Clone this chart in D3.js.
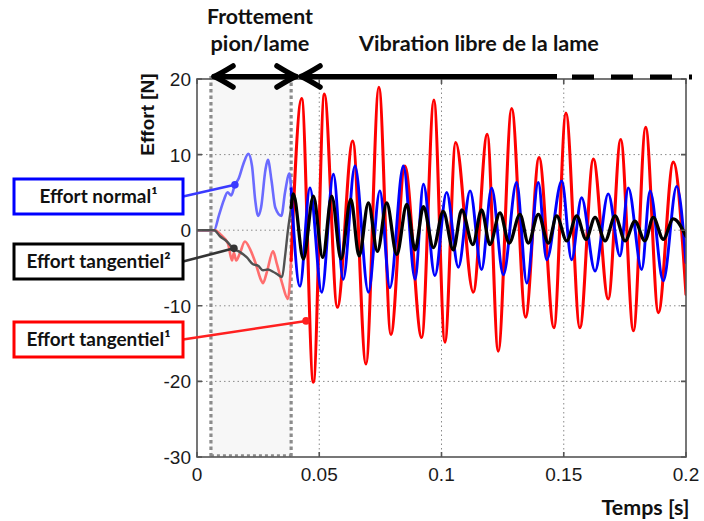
<!DOCTYPE html>
<html><head><meta charset="utf-8">
<script src="https://cdn.jsdelivr.net/npm/d3@7"></script>
<style>body{margin:0;background:#fff}svg{display:block}</style>
</head><body>
<svg id="c" width="704" height="521"></svg>
<script>
// ---------- data ----------
const xTicks = [0, 0.05, 0.1, 0.15, 0.2];
const xTickLabels = ["0", "0.05", "0.1", "0.15", "0.2"];
const yTicks = [20, 10, 0, -10, -20, -30];
const yTickLabels = ["20", "10", "0", "-10", "-20", "-30"];
const frictionStart = 0.0057, frictionEnd = 0.0385;

const normalT = [0,0.0070,0.0090,0.0110,0.0125,0.0140,0.0155,0.0170,0.0190,0.0210,0.0225,0.0238,0.0250,0.0262,0.0280,0.0290,0.0305,0.0320,0.0345,0.0360,0.0378,0.0385,0.0421,0.0462,0.0510,0.0558,0.0598,0.0646,0.0701,0.0748,0.0789,0.0844,0.0892,0.0926,0.0973,0.1021,0.1069,0.1117,0.1164,0.1205,0.1253,0.1307,0.1349,0.1396,0.1430,0.1492,0.1532,0.1573,0.1628,0.1682,0.1730,0.1764,0.1819,0.1853,0.1907,0.1962,0.2000];
const normalV = [0,0,2.0,4.0,5.0,4.6,6.0,6.8,8.8,10.1,8.5,4.0,1.9,3.0,8.0,9.3,6.5,3.0,1.9,5.0,7.5,5.5,-7.4,5.6,-8.2,7.4,-6.5,8.5,-8.2,5.2,-7.6,8.5,-6.5,6.1,-6.0,5.0,-4.9,5.2,-5.2,5.6,-5.9,6.3,-7.0,6.3,-3.9,6.5,-3.9,4.3,-5.4,4.8,-3.4,5.6,-5.2,5.2,-6.7,5.8,-4.3];

const tang2T = [0,0.0070,0.0094,0.0123,0.0147,0.0176,0.0204,0.0229,0.0250,0.0270,0.0290,0.0311,0.0327,0.0348,0.0360,0.0372,0.0385,0.0394,0.0435,0.0476,0.0514,0.0551,0.0589,0.0629,0.0663,0.0701,0.0738,0.0776,0.0817,0.0858,0.0892,0.0926,0.0967,0.1007,0.1048,0.1083,0.1128,0.1164,0.1198,0.1239,0.1277,0.1321,0.1355,0.1396,0.1437,0.1471,0.1512,0.1553,0.1591,0.1628,0.1669,0.1710,0.1751,0.1791,0.1832,0.1866,0.1907,0.1948,0.2000];
const tang2V = [0,0,-0.8,-1.5,-2.4,-2.9,-3.6,-4.5,-4.7,-5.3,-5.2,-5.5,-5.8,-6.2,-3.5,0,3.0,4.8,-3.8,4.5,-3.6,4.5,-3.8,4.1,-3.4,3.6,-2.8,3.6,-3.2,3.4,-2.6,3.1,-2.3,2.5,-2.6,2.7,-1.9,2.7,-1.9,2.3,-1.7,2.1,-1.7,2.1,-1.7,1.9,-1.4,1.9,-1.2,1.7,-1.4,1.9,-1.4,1.2,-1.4,1.7,-1.2,1.5,-0.8];

const tang1T = [0,0.0075,0.0094,0.0127,0.0143,0.0151,0.0160,0.0176,0.0196,0.0217,0.0241,0.0262,0.0270,0.0286,0.0311,0.0327,0.0348,0.0372,0.0385,0.0428,0.0476,0.0521,0.0574,0.0637,0.0691,0.0744,0.0793,0.0850,0.0919,0.0969,0.1014,0.1058,0.1130,0.1187,0.1232,0.1287,0.1344,0.1399,0.1460,0.1509,0.1566,0.1621,0.1682,0.1733,0.1785,0.1835,0.1887,0.1948,0.2000];
const tang1V = [0,0,-0.5,-1.8,-4.0,-3.0,-4.0,-3.0,-1.5,-2.5,-4.5,-6.6,-7.0,-5.5,-2.8,-4.5,-7.0,-9.1,-4.0,17.4,-20.1,18.0,-10.2,11.8,-17.7,18.9,-13.8,8.5,-14.2,17.2,-14.8,11.6,-8.2,12.7,-16.0,16.1,-11.5,9.6,-12.9,15.5,-12.9,9.4,-9.1,12.0,-13.3,13.6,-10.9,9.0,-8.5];

const legendLabels = ["Effort normal\u00B9", "Effort tangentiel\u00B2", "Effort tangentiel\u00B9"];
const legendAnchorT = [0.0155, 0.0151, 0.0446];
const legendAnchorV = [6.0, -2.4, -12.0];

// ---------- layout ----------
const svg = d3.select("#c");
const x = d3.scaleLinear().domain([0, 0.2]).range([197, 686]);
const y = d3.scaleLinear().domain([-30, 20]).range([457, 79]);
const X0 = 197, X1 = 686, Y0 = 79, Y1 = 457;

svg.append("defs").append("clipPath").attr("id", "clip")
  .append("rect").attr("x", X0).attr("y", Y0).attr("width", X1 - X0).attr("height", Y1 - Y0);

// shaded friction zone
svg.append("rect").attr("x", x(frictionStart)).attr("y", Y0)
  .attr("width", x(frictionEnd) - x(frictionStart)).attr("height", Y1 - Y0)
  .attr("fill", "#f7f7f7");

// grid
const grid = svg.append("g").attr("stroke", "#8a8a8a").attr("stroke-width", 1).attr("stroke-dasharray", "1.5,3");
grid.selectAll(".gx").data(xTicks.slice(1, -1)).join("line")
  .attr("x1", d => x(d)).attr("x2", d => x(d)).attr("y1", Y0).attr("y2", Y1);
grid.selectAll(".gy").data(yTicks.slice(1, -1)).join("line")
  .attr("x1", X0).attr("x2", X1).attr("y1", d => y(d)).attr("y2", d => y(d));

// friction zone dotted borders
const zb = svg.append("g").attr("stroke", "#8c8c8c");
zb.selectAll("line").data([frictionStart, frictionEnd]).join("line")
  .attr("x1", d => x(d)).attr("x2", d => x(d)).attr("y1", Y0 - 3).attr("y2", Y1)
  .attr("stroke-width", 3.2).attr("stroke-dasharray", "3.5,3");
zb.append("line").attr("x1", x(frictionStart)).attr("x2", x(frictionEnd))
  .attr("y1", Y1 - 1.5).attr("y2", Y1 - 1.5).attr("stroke-width", 2.5).attr("stroke-dasharray", "3,3");

// curves
const line = d3.line().x(d => x(d[0])).y(d => y(d[1])).curve(d3.curveMonotoneX);
const plot = svg.append("g").attr("clip-path", "url(#clip)").attr("fill", "none")
  .attr("stroke-linejoin", "round").attr("stroke-linecap", "round");
function split(T, V) {
  const pts = d3.zip(T, V);
  return [pts.filter(p => p[0] <= frictionEnd), pts.filter(p => p[0] >= frictionEnd)];
}
const [n1, n2] = split(normalT, normalV);
const [r1, r2] = split(tang1T, tang1V);
const [k1, k2] = split(tang2T, tang2V);
// friction phase (light)
plot.append("path").attr("d", line(n1)).attr("stroke", "#6a6aff").attr("stroke-width", 2.6);
plot.append("path").attr("d", line(r1)).attr("stroke", "#ff6e6e").attr("stroke-width", 2.6);
plot.append("path").attr("d", line(k1)).attr("stroke", "#505050").attr("stroke-width", 2.4);
// free vibration
plot.append("path").attr("d", line(r2)).attr("stroke", "#ff0000").attr("stroke-width", 3.1);
plot.append("path").attr("d", line(n2)).attr("stroke", "#0000ff").attr("stroke-width", 2.9);
plot.append("path").attr("d", line(k2)).attr("stroke", "#000000").attr("stroke-width", 3.3);

// frame
const frame = svg.append("g").attr("stroke", "#555").attr("stroke-width", 1.6).attr("fill", "none");
frame.append("rect").attr("x", X0).attr("y", Y0).attr("width", X1 - X0).attr("height", Y1 - Y0);
// inward ticks
frame.selectAll(".tx").data(xTicks).join("path")
  .attr("d", d => `M${x(d)},${Y1}v-5M${x(d)},${Y0}v5`);
frame.selectAll(".ty").data(yTicks).join("path")
  .attr("d", d => `M${X0},${y(d)}h5M${X1},${y(d)}h-5`);

// tick labels
const tickFont = "'Liberation Sans', Arial, sans-serif";
svg.append("g").selectAll("text").data(xTicks).join("text")
  .attr("x", d => x(d)).attr("y", 481).attr("text-anchor", "middle")
  .attr("font-family", tickFont).attr("font-size", 19).attr("fill", "#1a1a1a")
  .text((d, i) => xTickLabels[i]);
svg.append("g").selectAll("text").data(yTicks).join("text")
  .attr("x", 191).attr("y", d => y(d) + 7).attr("text-anchor", "end")
  .attr("font-family", tickFont).attr("font-size", 19).attr("fill", "#1a1a1a")
  .text((d, i) => yTickLabels[i]);

// axis titles
svg.append("text").attr("transform", "translate(154,114.5) rotate(-90)")
  .attr("text-anchor", "middle").attr("font-family", tickFont).attr("font-weight", "bold")
  .attr("font-size", 19).attr("fill", "#111").text("Effort [N]");

const labFont = "Lato, 'Open Sans', sans-serif";
function fitText(sel, w) {
  const l = sel.node().getComputedTextLength();
  const fs = parseFloat(sel.attr("font-size"));
  sel.attr("font-size", fs * w / l);
}
function label(txt, cx, by, w) {
  const t = svg.append("text").attr("x", cx).attr("y", by).attr("text-anchor", "middle")
    .attr("font-family", labFont).attr("font-weight", "bold").attr("font-size", 19)
    .attr("fill", "#111").text(txt);
  fitText(t, w);
  return t;
}
label("Frottement", 260, 24, 106);
label("pion/lame", 260, 51, 99);
label("Vibration libre de la lame", 479, 51, 240);
label("Temps [s]", 645.5, 515, 88);

// arrows
const ar = svg.append("g").attr("stroke", "#000").attr("fill", "none")
  .attr("stroke-linecap", "round").attr("stroke-linejoin", "round");
const ay = 76.5;
ar.append("line").attr("x1", 214).attr("x2", 296).attr("y1", ay).attr("y2", ay).attr("stroke-width", 5);
ar.append("path").attr("d", `M233,66 Q220,74 214,${ay} Q220,79 233,87`).attr("stroke-width", 5.5);
ar.append("path").attr("d", `M277,66 Q290,74 296,${ay} Q290,79 277,87`).attr("stroke-width", 5.5);
ar.append("line").attr("x1", 301).attr("x2", 557).attr("y1", ay).attr("y2", ay)
  .attr("stroke-width", 5).attr("stroke-linecap", "butt");
ar.append("path").attr("d", `M320,66 Q307,74 301,${ay} Q307,79 320,87`).attr("stroke-width", 5.5);
ar.append("line").attr("x1", 572).attr("x2", 692).attr("y1", 77).attr("y2", 77)
  .attr("stroke-width", 5).attr("stroke-linecap", "butt").attr("stroke-dasharray", "22,17");

// legend boxes
const boxColors = ["#0000ff", "#000000", "#ff0000"];
const lineColors = ["#3a3aff", "#333333", "#ff2020"];
const boxTop = [179, 244, 322];
const boxH = 35;
const textW = [118, 144, 144];
legendLabels.forEach((lab, i) => {
  const bx = 14, bw = 169;
  const ly = boxTop[i] + boxH / 2;
  svg.append("line").attr("x1", bx + bw).attr("y1", ly)
    .attr("x2", x(legendAnchorT[i])).attr("y2", y(legendAnchorV[i]))
    .attr("stroke", lineColors[i]).attr("stroke-width", 2.6);
  svg.append("circle").attr("cx", x(legendAnchorT[i])).attr("cy", y(legendAnchorV[i]))
    .attr("r", 3.8).attr("fill", lineColors[i]);
  svg.append("rect").attr("x", bx).attr("y", boxTop[i]).attr("width", bw).attr("height", boxH)
    .attr("fill", "#fff").attr("stroke", boxColors[i]).attr("stroke-width", 3);
  const t = svg.append("text").attr("x", bx + bw / 2).attr("y", boxTop[i] + 24)
    .attr("text-anchor", "middle").attr("font-family", labFont).attr("font-weight", "bold")
    .attr("font-size", 17).attr("fill", "#111").text(lab);
  fitText(t, textW[i]);
});
</script>
</body></html>
